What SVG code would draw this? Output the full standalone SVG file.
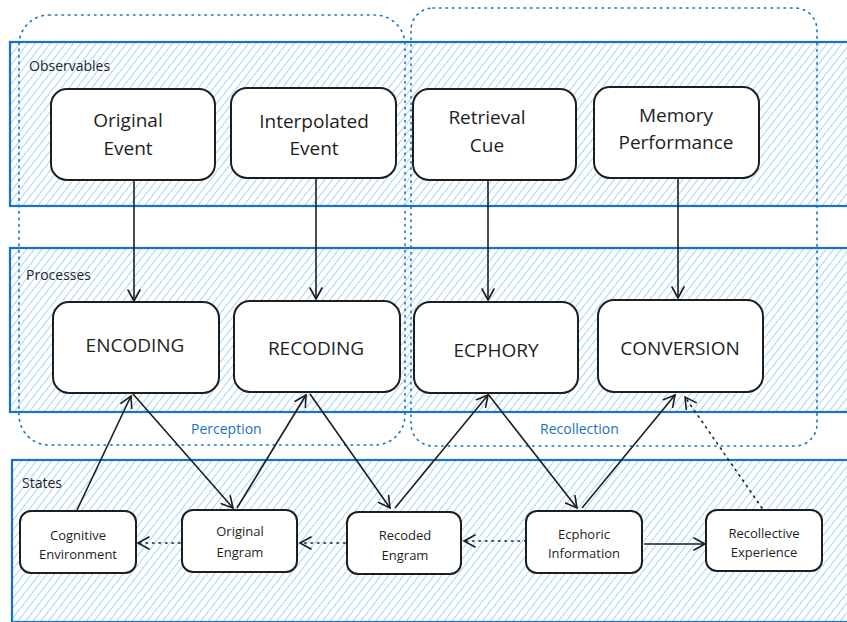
<svg xmlns="http://www.w3.org/2000/svg" width="847" height="622" viewBox="0 0 847 622">
<defs>
<pattern id="hatch" width="6" height="6" patternUnits="userSpaceOnUse" patternTransform="rotate(38)">
<line x1="0" y1="0" x2="0" y2="6" stroke="#93cdf9" stroke-width="1.7"/>
</pattern>
<marker id="arr" markerWidth="14" markerHeight="14" refX="12" refY="7" orient="auto" markerUnits="userSpaceOnUse">
<path d="M1,1 L12,7 L1,13" fill="none" stroke="#1e1e1e" stroke-width="1.6" stroke-linecap="round"/>
</marker>
</defs>
<style>
.band{fill:url(#hatch);stroke:#1971c2;stroke-width:2.2}
.frame{fill:none;stroke:#1971c2;stroke-width:1.6;stroke-dasharray:1.5 5;stroke-linecap:round}
.node{fill:#ffffff;stroke:#1e1e1e;stroke-width:2}
.lbl{font-family:"Open Sans","Liberation Sans",sans-serif;font-size:14px;fill:#1e1e1e}
.blue{font-family:"Open Sans","Liberation Sans",sans-serif;font-size:14px;fill:#1971c2}
.t20{font-family:"Open Sans","Liberation Sans",sans-serif;font-size:19px;fill:#1e1e1e;text-anchor:middle}
.t13{font-family:"Open Sans","Liberation Sans",sans-serif;font-size:13px;fill:#1e1e1e;text-anchor:middle}
.c{fill:none;stroke:#1e1e1e;stroke-width:1.6;marker-end:url(#arr)}
.d{fill:none;stroke:#1e1e1e;stroke-width:1.6;stroke-dasharray:1.5 5;stroke-linecap:round;marker-end:url(#arr)}
</style>
<g id="bands">
<rect class="band" x="10" y="42" width="850" height="164"/>
<rect class="band" x="10" y="248" width="850" height="164"/>
<rect class="band" x="12" y="460" width="850" height="162"/>
<text class="lbl" x="29" y="71">Observables</text>
<text class="lbl" x="26" y="280">Processes</text>
<text class="lbl" x="22" y="488">States</text>
</g>
<g id="frames">
<rect class="frame" x="19" y="15" width="386" height="430" rx="30"/>
<rect class="frame" x="411" y="8" width="406" height="438" rx="22"/>
<text class="blue" x="191" y="434">Perception</text>
<text class="blue" x="540" y="434">Recollection</text>
</g>
<g id="connectors">
<line class="c" x1="134" y1="180" x2="134" y2="301"/>
<line class="c" x1="316" y1="178" x2="316" y2="299"/>
<line class="c" x1="488" y1="180" x2="488" y2="300"/>
<line class="c" x1="678" y1="178" x2="678" y2="298"/>
<line class="c" x1="77" y1="510" x2="131" y2="396"/>
<line class="c" x1="133" y1="394" x2="233" y2="508"/>
<line class="c" x1="237" y1="508" x2="306" y2="395"/>
<line class="c" x1="310" y1="394" x2="390" y2="508"/>
<line class="c" x1="395" y1="508" x2="488" y2="395"/>
<line class="c" x1="488" y1="394" x2="577" y2="508"/>
<line class="c" x1="582" y1="508" x2="675" y2="395"/>
<line class="d" x1="762" y1="508" x2="685" y2="397"/>
<line class="c" x1="644" y1="544" x2="705" y2="544"/>
<line class="d" x1="180" y1="543" x2="138" y2="543"/>
<line class="d" x1="345" y1="543" x2="300" y2="543"/>
<line class="d" x1="526" y1="541" x2="464" y2="541"/>
</g>
<g id="n-original-event">
<rect class="node" x="51" y="89" width="164" height="91" rx="16"/>
<text class="t20" x="128" y="127">Original</text>
<text class="t20" x="128" y="155">Event</text>
</g>
<g id="n-interpolated-event">
<rect class="node" x="231" y="88" width="165" height="90" rx="16"/>
<text class="t20" x="314" y="128">Interpolated</text>
<text class="t20" x="314" y="155">Event</text>
</g>
<g id="n-retrieval-cue">
<rect class="node" x="413" y="89" width="163" height="91" rx="16"/>
<text class="t20" x="487" y="124">Retrieval</text>
<text class="t20" x="487" y="152">Cue</text>
</g>
<g id="n-memory-performance">
<rect class="node" x="594" y="87" width="165" height="91" rx="16"/>
<text class="t20" x="676" y="122">Memory</text>
<text class="t20" x="676" y="149">Performance</text>
</g>
<g id="n-encoding">
<rect class="node" x="53" y="302" width="166" height="91" rx="16"/>
<text class="t20" x="135" y="352">ENCODING</text>
</g>
<g id="n-recoding">
<rect class="node" x="234" y="301" width="166" height="91" rx="16"/>
<text class="t20" x="316" y="355">RECODING</text>
</g>
<g id="n-ecphory">
<rect class="node" x="414" y="302" width="164" height="91" rx="16"/>
<text class="t20" x="496" y="357">ECPHORY</text>
</g>
<g id="n-conversion">
<rect class="node" x="598" y="300" width="165" height="92" rx="16"/>
<text class="t20" x="680" y="355">CONVERSION</text>
</g>
<g id="n-cognitive-environment">
<rect class="node" x="20" y="511" width="116" height="62" rx="11"/>
<text class="t13" x="78" y="540">Cognitive</text>
<text class="t13" x="78" y="559">Environment</text>
</g>
<g id="n-original-engram">
<rect class="node" x="182" y="510" width="115" height="62" rx="11"/>
<text class="t13" x="240" y="536">Original</text>
<text class="t13" x="240" y="557">Engram</text>
</g>
<g id="n-recoded-engram">
<rect class="node" x="347" y="512" width="114" height="62" rx="11"/>
<text class="t13" x="405" y="540">Recoded</text>
<text class="t13" x="405" y="560">Engram</text>
</g>
<g id="n-ecphoric-information">
<rect class="node" x="526" y="511" width="116" height="62" rx="11"/>
<text class="t13" x="584" y="539">Ecphoric</text>
<text class="t13" x="584" y="558">Information</text>
</g>
<g id="n-recollective-experience">
<rect class="node" x="706" y="510" width="116" height="61" rx="11"/>
<text class="t13" x="764" y="538">Recollective</text>
<text class="t13" x="764" y="557">Experience</text>
</g>
</svg>
